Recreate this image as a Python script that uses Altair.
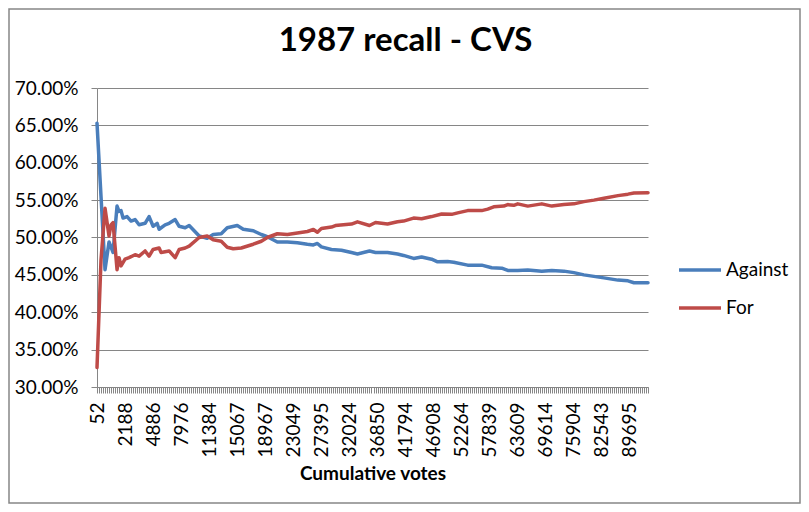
import altair as alt
import pandas as pd

# Category index positions (one category per reported cumulative vote count)
AGAINST_IDX = [0, 2, 4, 6, 8, 10, 11, 12, 13, 15, 17, 19, 21, 24, 26, 28, 30, 31, 34, 36,
               39, 41, 44, 46, 51, 55, 58, 62, 65, 70, 73, 78, 82, 85, 90, 95, 100, 105, 108, 110,
               112, 117, 122, 127, 130, 136, 139, 145, 150, 153, 158, 162, 167, 170, 175, 178, 185, 192, 197, 202,
               205, 210, 215, 222, 227, 233, 238, 243, 248, 253, 260, 265, 268, 275]
AGAINST = [65.3, 55.5, 45.7, 49.4, 48.0, 54.2, 53.5, 53.6, 52.6, 52.8, 52.2, 52.4, 51.7, 51.9, 52.8, 51.5, 51.9, 51.1, 51.7, 51.9,
           52.4, 51.5, 51.3, 51.6, 50.2, 49.9, 50.4, 50.5, 51.3, 51.6, 51.1, 50.9, 50.4, 50.1, 49.4, 49.4, 49.3, 49.1, 49.0, 49.2,
           48.75, 48.4, 48.3, 48.0, 47.8, 48.2, 48.0, 48.0, 47.8, 47.6, 47.2, 47.4, 47.1, 46.75, 46.8, 46.7, 46.3, 46.3, 45.95, 45.9,
           45.6, 45.6, 45.65, 45.5, 45.6, 45.5, 45.3, 45.0, 44.8, 44.6, 44.3, 44.2, 43.95, 43.95]

FOR_IDX = [0, 2, 4, 6, 7, 8, 10, 11, 12, 14, 16, 19, 21, 24, 26, 28, 31, 32, 36, 39,
           41, 44, 46, 51, 55, 58, 62, 65, 68, 72, 78, 82, 85, 90, 95, 100, 105, 108, 110, 112,
           117, 119, 123, 127, 130, 136, 139, 145, 150, 153, 158, 162, 167, 172, 177, 180, 185, 192, 195, 198,
           203, 205, 208, 210, 215, 222, 227, 233, 238, 243, 248, 253, 260, 265, 268, 275]
FOR = [32.6, 47.0, 53.9, 50.2, 51.7, 52.0, 45.7, 47.3, 46.2, 47.1, 47.3, 47.7, 47.5, 48.2, 47.5, 48.4, 48.6, 48.0, 48.2, 47.3,
       48.4, 48.6, 48.85, 50.0, 50.2, 49.7, 49.5, 48.7, 48.5, 48.6, 49.1, 49.5, 50.0, 50.5, 50.4, 50.6, 50.8, 51.07, 50.7, 51.2,
       51.4, 51.6, 51.7, 51.8, 52.1, 51.6, 52.0, 51.8, 52.1, 52.2, 52.6, 52.5, 52.8, 53.15, 53.1, 53.3, 53.6, 53.6, 53.8, 54.1,
       54.2, 54.4, 54.3, 54.5, 54.2, 54.5, 54.2, 54.4, 54.5, 54.8, 55.0, 55.24, 55.6, 55.8, 55.95, 56.0]

SERIES = ["Against", "For"]
COLORS = ["#4A7EBB", "#BE4B48"]
TITLE = "1987 recall - CVS"

TICK_LABELS = ["52", "2188", "4886", "7976", "11384", "15067", "18967", "23049", "27395", "32024",
               "36850", "41794", "46908", "52264", "57839", "63609", "69614", "75904", "82543", "89695"]
LABEL_STEP = 14
N_LAST = 275

rows = []
for i, v in zip(AGAINST_IDX, AGAINST):
    rows.append({"idx": i, "share": v / 100.0, "series": "Against"})
for i, v in zip(FOR_IDX, FOR):
    rows.append({"idx": i, "share": v / 100.0, "series": "For"})
df = pd.DataFrame(rows)

label_array = "[" + ",".join("'" + s + "'" for s in TICK_LABELS) + "]"
label_expr = (f"(datum.value % {LABEL_STEP} == 0 && datum.value / {LABEL_STEP} < {len(TICK_LABELS)}) "
              f"? {label_array}[datum.value / {LABEL_STEP}] : ''")

GRAY = "#868686"
FONT = "Lato"

lines = alt.Chart(df).mark_line(strokeWidth=3.5, strokeJoin="round", strokeCap="round").encode(
    x=alt.X("idx:Q",
            scale=alt.Scale(domain=[0, N_LAST], nice=False, zero=False),
            axis=alt.Axis(title="Cumulative votes",
                          values=list(range(0, N_LAST + 1)),
                          labelExpr=label_expr,
                          labelAngle=-90, labelAlign="right", labelBaseline="middle",
                          labelOverlap=False, labelPadding=9, tickSize=6,
                          labelFont=FONT, labelFontSize=19, labelColor="black",
                          grid=False, titleFont=FONT, titleFontWeight="bold", titleFontSize=19,
                          titleColor="black", titlePadding=7,
                          domainColor=GRAY, tickColor=GRAY)),
    y=alt.Y("share:Q",
            scale=alt.Scale(domain=[0.30, 0.70], nice=False, zero=False),
            axis=alt.Axis(title=None, format=".2%",
                          values=[0.30, 0.35, 0.40, 0.45, 0.50, 0.55, 0.60, 0.65, 0.70],
                          labelFont=FONT, labelFontSize=19, labelColor="black",
                          tickSize=6, labelPadding=13, grid=True,
                          gridColor=GRAY, gridOpacity=1, domainColor=GRAY, tickColor=GRAY)),
    color=alt.Color("series:N",
                    scale=alt.Scale(domain=SERIES, range=COLORS),
                    legend=alt.Legend(title=None, orient="none", legendX=580, legendY=159,
                                      symbolType="stroke", symbolSize=1764, symbolStrokeWidth=3.5,
                                      labelOffset=3, labelFontSize=19, labelFont=FONT,
                                      labelColor="black", rowPadding=5, padding=0)),
    order=alt.Order("idx:Q"),
)

border = alt.Chart(pd.DataFrame({"b": [0]})).mark_rect(
    filled=False, stroke=GRAY, strokeWidth=1.5
).encode(
    x=alt.value(-88), x2=alt.value(703), y=alt.value(-79), y2=alt.value(415)
)

title = alt.Chart(pd.DataFrame({"t": [TITLE]})).mark_text(
    font=FONT, fontSize=33, fontWeight="bold", color="black",
    align="center", baseline="alphabetic"
).encode(
    x=alt.value(308.5), y=alt.value(-37), text="t:N"
)

chart = alt.layer(border, lines, title).properties(
    width=551, height=299,
    autosize=alt.AutoSizeParams(type="none"),
    padding={"left": 89, "top": 80, "right": 153, "bottom": 117},
    background="white",
).configure_view(stroke="transparent")

chart.save("out.html", embed_options={"renderer": "svg", "actions": False})
